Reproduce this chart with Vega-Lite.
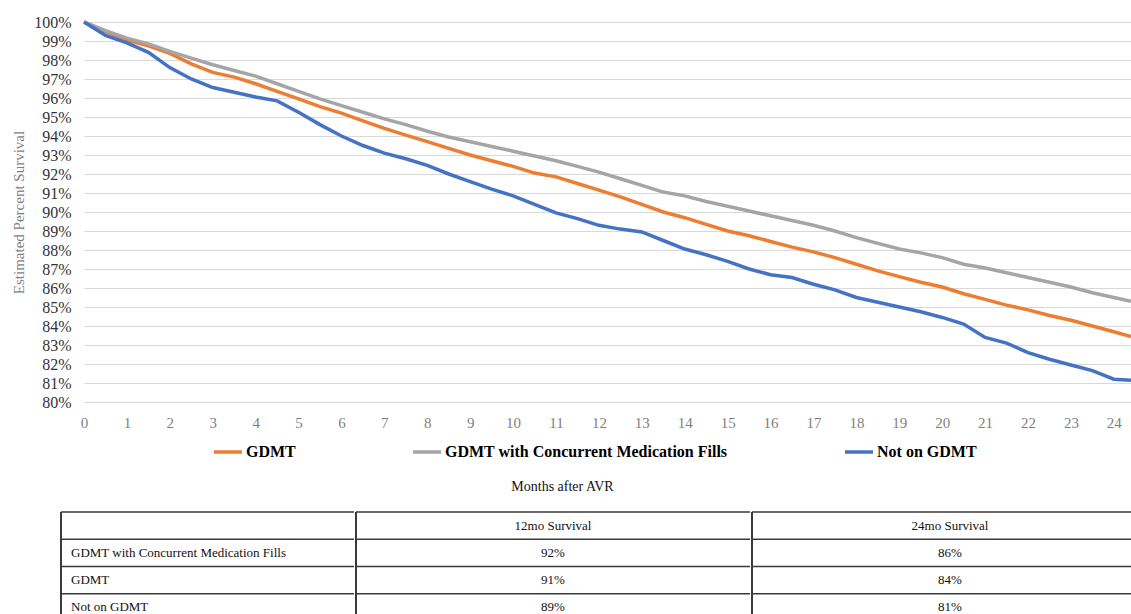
{
  "$schema": "https://vega.github.io/schema/vega-lite/v6.json",
  "padding": {"left": 11, "top": 14, "right": 0, "bottom": 0},
  "background": "white",
  "spacing": 18,
  "config": {
    "view": {"stroke": null},
    "font": "Liberation Serif"
  },
  "datasets": {
    "curves": [
      {"month": 0, "group": "GDMT", "survival": 100},
      {"month": 0.5, "group": "GDMT", "survival": 99.5},
      {"month": 1, "group": "GDMT", "survival": 99.05},
      {"month": 1.5, "group": "GDMT", "survival": 98.75},
      {"month": 2, "group": "GDMT", "survival": 98.35},
      {"month": 2.5, "group": "GDMT", "survival": 97.8},
      {"month": 3, "group": "GDMT", "survival": 97.35},
      {"month": 3.5, "group": "GDMT", "survival": 97.1},
      {"month": 4, "group": "GDMT", "survival": 96.75},
      {"month": 4.5, "group": "GDMT", "survival": 96.35},
      {"month": 5, "group": "GDMT", "survival": 95.95},
      {"month": 5.5, "group": "GDMT", "survival": 95.55},
      {"month": 6, "group": "GDMT", "survival": 95.2},
      {"month": 6.5, "group": "GDMT", "survival": 94.8},
      {"month": 7, "group": "GDMT", "survival": 94.4},
      {"month": 7.5, "group": "GDMT", "survival": 94.05},
      {"month": 8, "group": "GDMT", "survival": 93.7},
      {"month": 8.5, "group": "GDMT", "survival": 93.35},
      {"month": 9, "group": "GDMT", "survival": 93.0},
      {"month": 9.5, "group": "GDMT", "survival": 92.7},
      {"month": 10, "group": "GDMT", "survival": 92.4},
      {"month": 10.5, "group": "GDMT", "survival": 92.05},
      {"month": 11, "group": "GDMT", "survival": 91.85},
      {"month": 11.5, "group": "GDMT", "survival": 91.5},
      {"month": 12, "group": "GDMT", "survival": 91.15},
      {"month": 12.5, "group": "GDMT", "survival": 90.8},
      {"month": 13, "group": "GDMT", "survival": 90.4},
      {"month": 13.5, "group": "GDMT", "survival": 90.0},
      {"month": 14, "group": "GDMT", "survival": 89.7},
      {"month": 14.5, "group": "GDMT", "survival": 89.35},
      {"month": 15, "group": "GDMT", "survival": 89.0},
      {"month": 15.5, "group": "GDMT", "survival": 88.75},
      {"month": 16, "group": "GDMT", "survival": 88.45},
      {"month": 16.5, "group": "GDMT", "survival": 88.15},
      {"month": 17, "group": "GDMT", "survival": 87.9},
      {"month": 17.5, "group": "GDMT", "survival": 87.6},
      {"month": 18, "group": "GDMT", "survival": 87.25},
      {"month": 18.5, "group": "GDMT", "survival": 86.9},
      {"month": 19, "group": "GDMT", "survival": 86.6},
      {"month": 19.5, "group": "GDMT", "survival": 86.3},
      {"month": 20, "group": "GDMT", "survival": 86.05},
      {"month": 20.5, "group": "GDMT", "survival": 85.7},
      {"month": 21, "group": "GDMT", "survival": 85.4},
      {"month": 21.5, "group": "GDMT", "survival": 85.1},
      {"month": 22, "group": "GDMT", "survival": 84.85},
      {"month": 22.5, "group": "GDMT", "survival": 84.55},
      {"month": 23, "group": "GDMT", "survival": 84.3},
      {"month": 23.5, "group": "GDMT", "survival": 84.0},
      {"month": 24, "group": "GDMT", "survival": 83.7},
      {"month": 24.4, "group": "GDMT", "survival": 83.45},
      {"month": 0, "group": "GDMT with Concurrent Medication Fills", "survival": 100},
      {"month": 0.5, "group": "GDMT with Concurrent Medication Fills", "survival": 99.55},
      {"month": 1, "group": "GDMT with Concurrent Medication Fills", "survival": 99.15},
      {"month": 1.5, "group": "GDMT with Concurrent Medication Fills", "survival": 98.85},
      {"month": 2, "group": "GDMT with Concurrent Medication Fills", "survival": 98.45},
      {"month": 2.5, "group": "GDMT with Concurrent Medication Fills", "survival": 98.1},
      {"month": 3, "group": "GDMT with Concurrent Medication Fills", "survival": 97.75},
      {"month": 3.5, "group": "GDMT with Concurrent Medication Fills", "survival": 97.45},
      {"month": 4, "group": "GDMT with Concurrent Medication Fills", "survival": 97.15},
      {"month": 4.5, "group": "GDMT with Concurrent Medication Fills", "survival": 96.75},
      {"month": 5, "group": "GDMT with Concurrent Medication Fills", "survival": 96.35},
      {"month": 5.5, "group": "GDMT with Concurrent Medication Fills", "survival": 95.95},
      {"month": 6, "group": "GDMT with Concurrent Medication Fills", "survival": 95.6},
      {"month": 6.5, "group": "GDMT with Concurrent Medication Fills", "survival": 95.25},
      {"month": 7, "group": "GDMT with Concurrent Medication Fills", "survival": 94.9},
      {"month": 7.5, "group": "GDMT with Concurrent Medication Fills", "survival": 94.6},
      {"month": 8, "group": "GDMT with Concurrent Medication Fills", "survival": 94.25},
      {"month": 8.5, "group": "GDMT with Concurrent Medication Fills", "survival": 93.95},
      {"month": 9, "group": "GDMT with Concurrent Medication Fills", "survival": 93.7},
      {"month": 9.5, "group": "GDMT with Concurrent Medication Fills", "survival": 93.45},
      {"month": 10, "group": "GDMT with Concurrent Medication Fills", "survival": 93.2},
      {"month": 10.5, "group": "GDMT with Concurrent Medication Fills", "survival": 92.95},
      {"month": 11, "group": "GDMT with Concurrent Medication Fills", "survival": 92.7},
      {"month": 11.5, "group": "GDMT with Concurrent Medication Fills", "survival": 92.4},
      {"month": 12, "group": "GDMT with Concurrent Medication Fills", "survival": 92.1},
      {"month": 12.5, "group": "GDMT with Concurrent Medication Fills", "survival": 91.75},
      {"month": 13, "group": "GDMT with Concurrent Medication Fills", "survival": 91.4},
      {"month": 13.5, "group": "GDMT with Concurrent Medication Fills", "survival": 91.05},
      {"month": 14, "group": "GDMT with Concurrent Medication Fills", "survival": 90.85},
      {"month": 14.5, "group": "GDMT with Concurrent Medication Fills", "survival": 90.55},
      {"month": 15, "group": "GDMT with Concurrent Medication Fills", "survival": 90.3},
      {"month": 15.5, "group": "GDMT with Concurrent Medication Fills", "survival": 90.05},
      {"month": 16, "group": "GDMT with Concurrent Medication Fills", "survival": 89.8},
      {"month": 16.5, "group": "GDMT with Concurrent Medication Fills", "survival": 89.55},
      {"month": 17, "group": "GDMT with Concurrent Medication Fills", "survival": 89.3},
      {"month": 17.5, "group": "GDMT with Concurrent Medication Fills", "survival": 89.0},
      {"month": 18, "group": "GDMT with Concurrent Medication Fills", "survival": 88.65},
      {"month": 18.5, "group": "GDMT with Concurrent Medication Fills", "survival": 88.35},
      {"month": 19, "group": "GDMT with Concurrent Medication Fills", "survival": 88.05},
      {"month": 19.5, "group": "GDMT with Concurrent Medication Fills", "survival": 87.85},
      {"month": 20, "group": "GDMT with Concurrent Medication Fills", "survival": 87.6},
      {"month": 20.5, "group": "GDMT with Concurrent Medication Fills", "survival": 87.25},
      {"month": 21, "group": "GDMT with Concurrent Medication Fills", "survival": 87.05},
      {"month": 21.5, "group": "GDMT with Concurrent Medication Fills", "survival": 86.8},
      {"month": 22, "group": "GDMT with Concurrent Medication Fills", "survival": 86.55},
      {"month": 22.5, "group": "GDMT with Concurrent Medication Fills", "survival": 86.3},
      {"month": 23, "group": "GDMT with Concurrent Medication Fills", "survival": 86.05},
      {"month": 23.5, "group": "GDMT with Concurrent Medication Fills", "survival": 85.75},
      {"month": 24, "group": "GDMT with Concurrent Medication Fills", "survival": 85.5},
      {"month": 24.4, "group": "GDMT with Concurrent Medication Fills", "survival": 85.3},
      {"month": 0, "group": "Not on GDMT", "survival": 100},
      {"month": 0.5, "group": "Not on GDMT", "survival": 99.3},
      {"month": 1, "group": "Not on GDMT", "survival": 98.9},
      {"month": 1.5, "group": "Not on GDMT", "survival": 98.4},
      {"month": 2, "group": "Not on GDMT", "survival": 97.6},
      {"month": 2.5, "group": "Not on GDMT", "survival": 97.0},
      {"month": 3, "group": "Not on GDMT", "survival": 96.55},
      {"month": 3.5, "group": "Not on GDMT", "survival": 96.3},
      {"month": 4, "group": "Not on GDMT", "survival": 96.05},
      {"month": 4.5, "group": "Not on GDMT", "survival": 95.85},
      {"month": 5, "group": "Not on GDMT", "survival": 95.25},
      {"month": 5.5, "group": "Not on GDMT", "survival": 94.6},
      {"month": 6, "group": "Not on GDMT", "survival": 94.0},
      {"month": 6.5, "group": "Not on GDMT", "survival": 93.5},
      {"month": 7, "group": "Not on GDMT", "survival": 93.1},
      {"month": 7.5, "group": "Not on GDMT", "survival": 92.8},
      {"month": 8, "group": "Not on GDMT", "survival": 92.45},
      {"month": 8.5, "group": "Not on GDMT", "survival": 92.0},
      {"month": 9, "group": "Not on GDMT", "survival": 91.6},
      {"month": 9.5, "group": "Not on GDMT", "survival": 91.2},
      {"month": 10, "group": "Not on GDMT", "survival": 90.85},
      {"month": 10.5, "group": "Not on GDMT", "survival": 90.4},
      {"month": 11, "group": "Not on GDMT", "survival": 89.95},
      {"month": 11.5, "group": "Not on GDMT", "survival": 89.65},
      {"month": 12, "group": "Not on GDMT", "survival": 89.3},
      {"month": 12.5, "group": "Not on GDMT", "survival": 89.1},
      {"month": 13, "group": "Not on GDMT", "survival": 88.95},
      {"month": 13.5, "group": "Not on GDMT", "survival": 88.5},
      {"month": 14, "group": "Not on GDMT", "survival": 88.05},
      {"month": 14.5, "group": "Not on GDMT", "survival": 87.75},
      {"month": 15, "group": "Not on GDMT", "survival": 87.4},
      {"month": 15.5, "group": "Not on GDMT", "survival": 87.0},
      {"month": 16, "group": "Not on GDMT", "survival": 86.7},
      {"month": 16.5, "group": "Not on GDMT", "survival": 86.55},
      {"month": 17, "group": "Not on GDMT", "survival": 86.2},
      {"month": 17.5, "group": "Not on GDMT", "survival": 85.9},
      {"month": 18, "group": "Not on GDMT", "survival": 85.5},
      {"month": 18.5, "group": "Not on GDMT", "survival": 85.25},
      {"month": 19, "group": "Not on GDMT", "survival": 85.0},
      {"month": 19.5, "group": "Not on GDMT", "survival": 84.75},
      {"month": 20, "group": "Not on GDMT", "survival": 84.45},
      {"month": 20.5, "group": "Not on GDMT", "survival": 84.1},
      {"month": 21, "group": "Not on GDMT", "survival": 83.4},
      {"month": 21.5, "group": "Not on GDMT", "survival": 83.1},
      {"month": 22, "group": "Not on GDMT", "survival": 82.6},
      {"month": 22.5, "group": "Not on GDMT", "survival": 82.25},
      {"month": 23, "group": "Not on GDMT", "survival": 81.95},
      {"month": 23.5, "group": "Not on GDMT", "survival": 81.65},
      {"month": 24, "group": "Not on GDMT", "survival": 81.2},
      {"month": 24.4, "group": "Not on GDMT", "survival": 81.15}
    ],
    "table": [
      {"row": "header", "label": "", "s12": "12mo Survival", "s24": "24mo  Survival"},
      {"row": "r1", "label": "GDMT  with Concurrent Medication Fills", "s12": "92%", "s24": "86%"},
      {"row": "r2", "label": "GDMT", "s12": "91%", "s24": "84%"},
      {"row": "r3", "label": "Not on GDMT", "s12": "89%", "s24": "81%"}
    ]
  },
  "vconcat": [
    {
      "width": 1047,
      "height": 380,
      "data": {"name": "curves"},
      "mark": {"type": "line", "strokeWidth": 3.5, "interpolate": "linear"},
      "encoding": {
        "x": {
          "field": "month",
          "type": "quantitative",
          "scale": {"domain": [0, 24.4], "nice": false, "zero": false},
          "axis": {
            "values": [0,1,2,3,4,5,6,7,8,9,10,11,12,13,14,15,16,17,18,19,20,21,22,23,24],
            "title": "Months after AVR",
            "titleFont": "Liberation Serif",
            "titleFontSize": 14,
            "titleFontWeight": "normal",
            "titleColor": "#111111",
            "titlePadding": 49,
            "titleX": 478,
            "titleAlign": "center",
            "labelFont": "Liberation Serif",
            "labelFontSize": 15,
            "labelColor": "#7f7f7f",
            "labelPadding": 13,
            "labelFlush": false,
            "ticks": false,
            "domain": false,
            "grid": false
          }
        },
        "y": {
          "field": "survival",
          "type": "quantitative",
          "scale": {"domain": [80, 100], "nice": false, "zero": false},
          "axis": {
            "values": [80,81,82,83,84,85,86,87,88,89,90,91,92,93,94,95,96,97,98,99,100],
            "labelExpr": "datum.value + '%'",
            "title": "Estimated Percent Survival",
            "titleFont": "Liberation Serif",
            "titleFontSize": 15,
            "titleFontWeight": "normal",
            "titleColor": "#7f7f7f",
            "titlePadding": 7,
            "labelFont": "Liberation Serif",
            "labelFontSize": 16,
            "labelColor": "#333333",
            "labelPadding": 13,
            "ticks": false,
            "domain": false,
            "grid": true,
            "gridColor": "#d9d9d9",
            "gridWidth": 1
          }
        },
        "color": {
          "field": "group",
          "type": "nominal",
          "scale": {
            "domain": ["GDMT", "GDMT with Concurrent Medication Fills", "Not on GDMT"],
            "range": ["#ED7D31", "#A5A5A5", "#4472C4"]
          },
          "legend": {
            "orient": "none",
            "legendX": 128,
            "legendY": 414,
            "direction": "horizontal",
            "title": null,
            "symbolType": "stroke",
            "symbolSize": 784,
            "symbolStrokeWidth": 3.5,
            "labelFont": "Liberation Serif",
            "labelFontSize": 16,
            "labelFontWeight": "bold",
            "labelColor": "#000000",
            "labelOffset": 2,
            "labelExpr": "datum.label == 'GDMT with Concurrent Medication Fills' ? datum.label + '         ' : datum.label",
            "columnPadding": 110,
            "padding": 0,
            "labelLimit": 600
          }
        }
      }
    },
    {
      "spacing": 0,
      "hconcat": [
        {
          "width": 270,
          "height": 102,
          "data": {"name": "table"},
          "layer": [
            {
              "mark": {"type": "rule", "stroke": "#3a3a3a", "strokeWidth": 1.5},
              "encoding": {
                "y": {"field": "row", "type": "nominal", "sort": null, "bandPosition": 0, "scale": {"range": [0, 109], "paddingInner": 0, "paddingOuter": 0}, "axis": null},
                "x": {"datum": 0, "type": "quantitative", "scale": {"domain": [0.0785, 1], "nice": false, "zero": false}, "axis": null},
                "x2": {"datum": 1}
              }
            },
            {
              "mark": {"type": "rule", "stroke": "#3a3a3a", "strokeWidth": 1.5},
              "encoding": {"x": {"datum": 0, "type": "quantitative"}}
            },
            {
              "mark": {"type": "text", "align": "left", "dx": 10, "fontSize": 13, "color": "#111111", "font": "Liberation Serif"},
              "encoding": {
                "y": {"field": "row", "type": "nominal", "sort": null},
                "x": {"datum": 0, "type": "quantitative"},
                "text": {"field": "label"}
              }
            }
          ]
        },
        {
          "width": 394,
          "height": 102,
          "data": {"name": "table"},
          "layer": [
            {
              "mark": {"type": "rule", "stroke": "#3a3a3a", "strokeWidth": 1.5},
              "encoding": {
                "y": {"field": "row", "type": "nominal", "sort": null, "bandPosition": 0, "scale": {"range": [0, 109], "paddingInner": 0, "paddingOuter": 0}, "axis": null}
              }
            },
            {
              "mark": {"type": "rule", "stroke": "#3a3a3a", "strokeWidth": 1.5},
              "encoding": {"x": {"datum": 0, "type": "quantitative", "scale": {"domain": [0, 1], "nice": false}, "axis": null}}
            },
            {
              "mark": {"type": "text", "align": "center", "fontSize": 13, "color": "#111111", "font": "Liberation Serif"},
              "encoding": {
                "y": {"field": "row", "type": "nominal", "sort": null},
                "x": {"datum": 0.5, "type": "quantitative"},
                "text": {"field": "s12"}
              }
            }
          ]
        },
        {
          "width": 381,
          "height": 102,
          "data": {"name": "table"},
          "layer": [
            {
              "mark": {"type": "rule", "stroke": "#3a3a3a", "strokeWidth": 1.5},
              "encoding": {
                "y": {"field": "row", "type": "nominal", "sort": null, "bandPosition": 0, "scale": {"range": [0, 109], "paddingInner": 0, "paddingOuter": 0}, "axis": null}
              }
            },
            {
              "mark": {"type": "rule", "stroke": "#3a3a3a", "strokeWidth": 1.5},
              "encoding": {"x": {"datum": 0, "type": "quantitative", "scale": {"domain": [0, 0.962], "nice": false}, "axis": null}}
            },
            {
              "mark": {"type": "text", "align": "center", "fontSize": 13, "color": "#111111", "font": "Liberation Serif"},
              "encoding": {
                "y": {"field": "row", "type": "nominal", "sort": null},
                "x": {"datum": 0.5, "type": "quantitative"},
                "text": {"field": "s24"}
              }
            }
          ]
        }
      ]
    }
  ]
}
